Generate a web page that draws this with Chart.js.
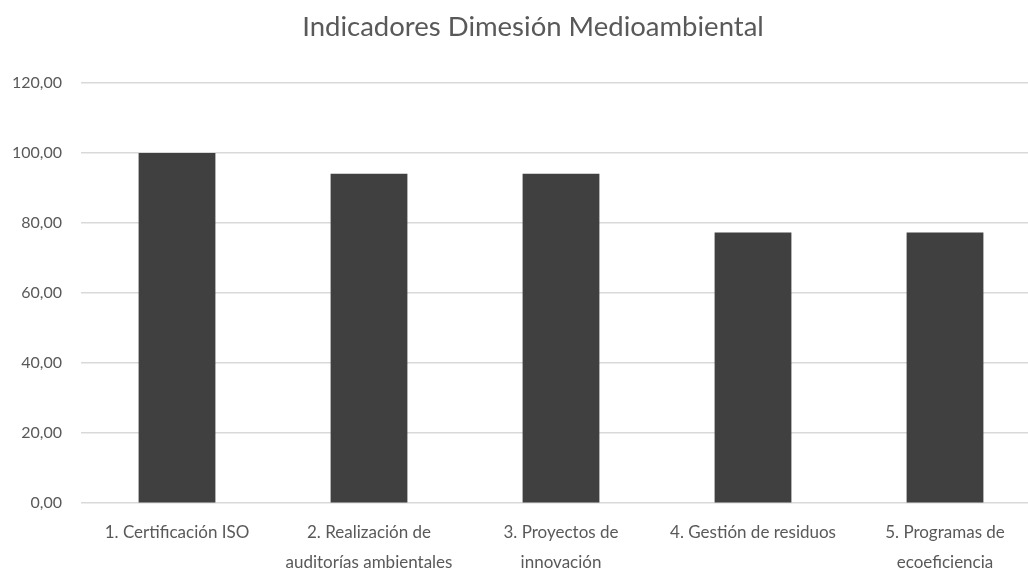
<!DOCTYPE html>
<html>
<head>
<meta charset="utf-8">
<script src="https://cdn.jsdelivr.net/npm/chart.js@4/dist/chart.umd.min.js"></script>
<style>
  html, body { margin: 0; padding: 0; background: #ffffff; overflow: hidden; }
  #wrap { width: 1028px; height: 573px; overflow: hidden; position: relative; }
  canvas { display: block; }
</style>
</head>
<body>
<div id="wrap"><canvas id="c" width="1060" height="591"></canvas></div>
<script>
const chartTitle = "Indicadores Dimesión Medioambiental";
const categories = [
  ["1. Certificación ISO"],
  ["2. Realización de", "auditorías ambientales"],
  ["3. Proyectos de", "innovación"],
  ["4. Gestión de residuos"],
  ["5. Programas de", "ecoeficiencia"]
];
const values = [100, 94.1, 94.1, 77.3, 77.3];
const yMin = 0, yMax = 120, yStep = 20;

const FONT = "Lato, 'Open Sans', sans-serif";
const TEXT = "#595959";

const shiftTitle = {
  id: 'shiftTitle',
  afterLayout(chart) {
    const t = chart.titleBlock;
    if (t) { t.left += 25; }
  }
};

new Chart(document.getElementById('c'), {
  type: 'bar',
  data: {
    labels: categories,
    datasets: [{
      data: values,
      backgroundColor: '#404040',
      borderWidth: 0,
      barPercentage: 0.4,
      categoryPercentage: 1.0
    }]
  },
  options: {
    responsive: false,
    animation: false,
    layout: { padding: { left: 0, right: 19, top: 0, bottom: 0 } },
    plugins: {
      legend: { display: false },
      tooltip: { enabled: false },
      title: {
        display: true,
        text: chartTitle,
        color: TEXT,
        font: { family: FONT, size: 27.5, weight: 'normal', lineHeight: 1.2 },
        padding: { top: 11, bottom: 39 }
      }
    },
    scales: {
      x: {
        grid: { display: false, drawTicks: false },
        border: { display: false },
        ticks: {
          color: TEXT,
          font: { family: FONT, size: 17, lineHeight: 1.76 },
          padding: 14,
          maxRotation: 0,
          autoSkip: false
        }
      },
      y: {
        min: yMin,
        max: yMax,
        grid: { color: '#d9d9d9', lineWidth: 1.5, drawTicks: false },
        border: { display: false },
        afterFit(scale) { scale.width = 81; },
        ticks: {
          stepSize: yStep,
          color: TEXT,
          font: { family: FONT, size: 16 },
          padding: 19,
          callback: (v) => Number(v).toFixed(2).replace('.', ',')
        }
      }
    }
  },
  plugins: [shiftTitle]
});
</script>
</body>
</html>
